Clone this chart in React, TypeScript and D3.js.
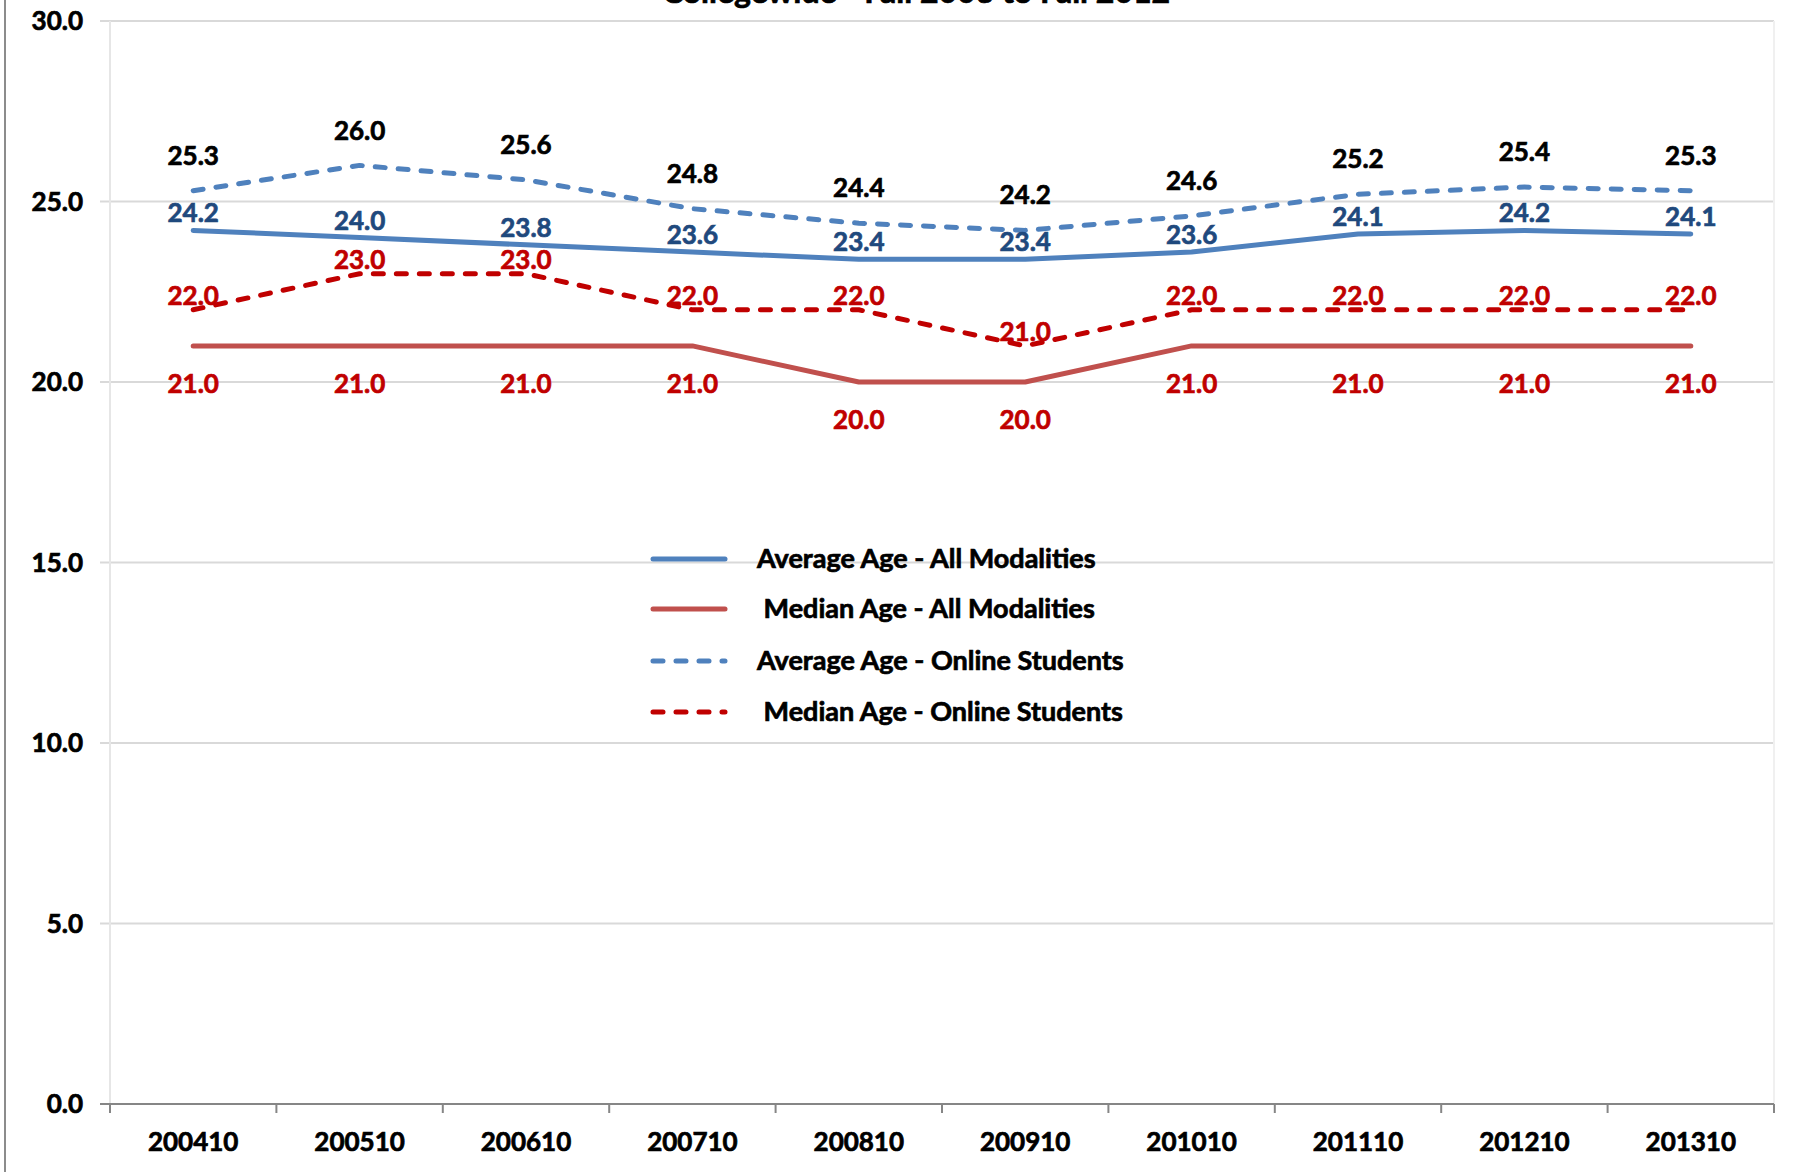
import React from 'react';
import * as d3 from 'd3';

const categories = ['200410', '200510', '200610', '200710', '200810', '200910', '201010', '201110', '201210', '201310'];
const avgAll = [24.2, 24.0, 23.8, 23.6, 23.4, 23.4, 23.6, 24.1, 24.2, 24.1];
const medianAll = [21.0, 21.0, 21.0, 21.0, 20.0, 20.0, 21.0, 21.0, 21.0, 21.0];
const avgOnline = [25.3, 26.0, 25.6, 24.8, 24.4, 24.2, 24.6, 25.2, 25.4, 25.3];
const medianOnline = [22.0, 23.0, 23.0, 22.0, 22.0, 21.0, 22.0, 22.0, 22.0, 22.0];
const yTicks = [0, 5, 10, 15, 20, 25, 30];
const seriesNames = [
  'Average Age - All Modalities',
  ' Median Age - All Modalities',
  'Average Age - Online Students',
  ' Median Age - Online Students',
];
const title = 'Collegewide - Fall 2003 to Fall 2012';

const FONT = 'Lato, "Noto Sans", sans-serif';
const WEIGHT = 'bold';
const THICK = 0.7;

export default function App() {
  const W = 1796;
  const H = 1172;
  const left = 110;
  const right = 1774;
  const top = 21;
  const bottom = 1104;

  const x = d3.scaleBand<string>().domain(categories).range([left, right]).padding(0);
  const y = d3.scaleLinear().domain([0, 30]).range([bottom, top]);
  const cx = (c: string) => (x(c) as number) + x.bandwidth() / 2;

  const line = d3
    .line<number>()
    .x((_, i) => cx(categories[i]))
    .y((d) => y(d))
    .curve(d3.curveLinear);

  const series = [
    { name: seriesNames[0], values: avgAll, color: '#4F81BD', dash: null, label: '#1F497D', dy: -17 },
    { name: seriesNames[1], values: medianAll, color: '#C0504D', dash: null, label: '#C00000', dy: 38 },
    { name: seriesNames[2], values: avgOnline, color: '#4F81BD', dash: '10 13', label: '#000000', dy: -35 },
    { name: seriesNames[3], values: medianOnline, color: '#C00000', dash: '10 13', label: '#C00000', dy: -14 },
  ];

  const bounds = categories.map((c) => x(c) as number).concat([right]);

  const legendX1 = 653;
  const legendX2 = 725;
  const legendTextX = 757;
  const legendY = [559, 609, 661, 712];

  const txt = (fill: string) => ({
    fontFamily: FONT,
    fontWeight: WEIGHT,
    fill,
    stroke: fill,
    strokeWidth: THICK,
  });

  return (
    <svg
      width={W}
      height={H}
      viewBox={`0 0 ${W} ${H}`}
      style={{ position: 'absolute', left: 0, top: 0, background: '#fff' }}
    >
      <rect x={0} y={0} width={W} height={H} fill="#fff" />
      <line x1={5} x2={5} y1={0} y2={H} stroke="#8C8C8C" strokeWidth={2} />

      <text x={916} y={3} textAnchor="middle" fontSize={32} {...txt('#000')}>
        {title}
      </text>

      {/* gridlines */}
      {yTicks.map((t) =>
        t === 0 ? null : (
          <line key={t} x1={left - 10} x2={right} y1={y(t)} y2={y(t)} stroke="#D9D9D9" strokeWidth={2} />
        )
      )}
      <line x1={left} x2={left} y1={top} y2={bottom} stroke="#E6E6E6" strokeWidth={2} />
      <line x1={right} x2={right} y1={top} y2={bottom} stroke="#F0F0F0" strokeWidth={2} />

      {/* y labels */}
      {yTicks.map((t) => (
        <text key={t} x={83} y={y(t)} dy="0.35em" textAnchor="end" fontSize={26} {...txt('#000')}>
          {t.toFixed(1)}
        </text>
      ))}

      {/* x axis */}
      <line x1={left - 10} x2={right} y1={bottom} y2={bottom} stroke="#868686" strokeWidth={2} />
      {bounds.map((b, i) => (
        <line key={i} x1={b} x2={b} y1={bottom} y2={bottom + 9} stroke="#868686" strokeWidth={2} />
      ))}
      {categories.map((c) => (
        <text key={c} x={cx(c)} y={1142} dy="0.35em" textAnchor="middle" fontSize={26} {...txt('#000')}>
          {c}
        </text>
      ))}

      {/* lines */}
      {series.map((s, i) => (
        <path
          key={i}
          d={line(s.values) || ''}
          fill="none"
          stroke={s.color}
          strokeWidth={5}
          strokeLinecap="round"
          strokeLinejoin="round"
          strokeDasharray={s.dash || undefined}
        />
      ))}

      {/* labels */}
      {series.map((s, i) =>
        s.values.map((v, j) => (
          <text
            key={`${i}-${j}`}
            x={cx(categories[j])}
            y={y(v) + s.dy}
            dy="0.35em"
            textAnchor="middle"
            fontSize={26}
            {...txt(s.label)}
          >
            {v.toFixed(1)}
          </text>
        ))
      )}

      {/* legend */}
      {series.map((s, i) => (
        <g key={i}>
          <line
            x1={legendX1}
            x2={legendX2}
            y1={legendY[i]}
            y2={legendY[i]}
            stroke={s.color}
            strokeWidth={5}
            strokeLinecap="round"
            strokeDasharray={s.dash || undefined}
          />
          <text
            x={legendTextX}
            y={legendY[i]}
            dy="0.35em"
            fontSize={27}
            {...txt('#000')}
            style={{ whiteSpace: 'pre' }}
          >
            {s.name}
          </text>
        </g>
      ))}
    </svg>
  );
}
